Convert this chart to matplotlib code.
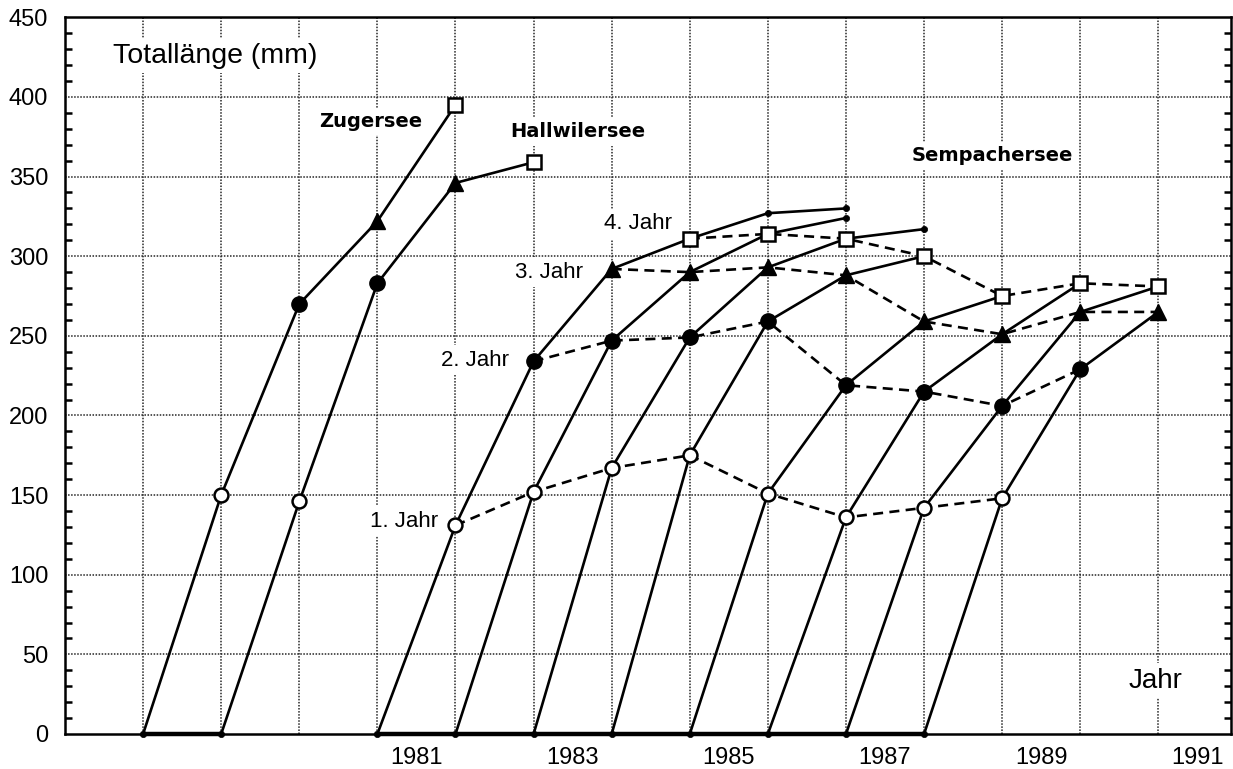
import numpy as np
import matplotlib
matplotlib.use("Agg")
import matplotlib.pyplot as plt
from matplotlib.ticker import MultipleLocator, FixedLocator

plt.rcParams["font.family"] = ["Liberation Sans", "DejaVu Sans"]


# -----------------------------
# Data (total length in mm, one list per year class)
# -----------------------------
zuger_years = [1978, 1979, 1980, 1981, 1982]
zuger_length = [0, 150, 270, 322, 395]

hallwil_years = [1979, 1980, 1981, 1982, 1983]
hallwil_length = [0, 146, 283, 346, 359]

# Sempachersee: year the cohort starts at 0 mm, then one value per year
sempach_start = [1981, 1982, 1983, 1984, 1985, 1986, 1987, 1988]
sempach_length = [
    [0, 131, 234, 292, 311, 327, 330],
    [0, 152, 247, 290, 314, 324],
    [0, 167, 249, 293, 311, 317],
    [0, 175, 259, 288, 300],
    [0, 151, 219, 259, 275],
    [0, 136, 215, 251, 283],
    [0, 142, 206, 265, 281],
    [0, 148, 229, 265],
]

year_ticks = [1981, 1983, 1985, 1987, 1989, 1991]
age_labels = ["1. Jahr", "2. Jahr", "3. Jahr", "4. Jahr"]


# -----------------------------
# Marker style per age (0 = hatching, 1..4 = Jahr)
# -----------------------------
def marker_for_age(age):
    if age == 1:
        return dict(marker="o", ms=10, mfc="white", mec="black", mew=1.8)
    if age == 2:
        return dict(marker="o", ms=11, mfc="black", mec="black", mew=1.0)
    if age == 3:
        return dict(marker="^", ms=11.5, mfc="black", mec="black", mew=1.0)
    if age == 4:
        return dict(marker="s", ms=10, mfc="white", mec="black", mew=1.8)
    return dict(marker="o", ms=4.5, mfc="black", mec="black", mew=0.5)


def plot_cohort(ax, years, values):
    ax.plot(years, values, color="black", lw=1.9, zorder=3, clip_on=False)
    for age, (x, y) in enumerate(zip(years, values)):
        ax.plot([x], [y], linestyle="none", zorder=5, clip_on=False,
                **marker_for_age(age))


# -----------------------------
# Figure
# -----------------------------
W, H = 1233, 769
fig = plt.figure(figsize=(W / 100, H / 100), dpi=100)
ax = fig.add_axes([65 / W, 1 - 734 / H, (1231 - 65) / W, (734 - 17.3) / H])

ax.set_xlim(1977, 1991.93)
ax.set_ylim(0, 450)

# grid: year boundaries and every 50 mm
grid_style = dict(color="0.15", lw=1.1, linestyle=(0, (1, 1)), zorder=1)
for gx in range(1978, 1992):
    ax.axvline(gx, **grid_style)
for gy in range(50, 450, 50):
    ax.axhline(gy, **grid_style)

# lake cohorts
plot_cohort(ax, zuger_years, zuger_length)
plot_cohort(ax, hallwil_years, hallwil_length)

sempach_years = []
for start, vals in zip(sempach_start, sempach_length):
    yrs = [start + i for i in range(len(vals))]
    sempach_years.append(yrs)
    plot_cohort(ax, yrs, vals)

# dashed lines joining the same age across Sempachersee cohorts
for age in range(1, 5):
    xs = [yrs[age] for yrs, vals in zip(sempach_years, sempach_length) if len(vals) > age]
    ys = [vals[age] for vals in sempach_length if len(vals) > age]
    ax.plot(xs, ys, color="black", lw=1.9, linestyle=(0, (3.8, 2.4)), zorder=2)

# thick baseline joining the hatching points
ax.plot([zuger_years[0], hallwil_years[0]], [0, 0], color="black", lw=3.2,
        zorder=4, clip_on=False)
ax.plot([sempach_start[0], sempach_start[-1]], [0, 0], color="black", lw=3.2,
        zorder=4, clip_on=False)

# -----------------------------
# Axes styling
# -----------------------------
for sp in ax.spines.values():
    sp.set_linewidth(1.8)

ax.yaxis.set_major_locator(MultipleLocator(50))
ax.yaxis.set_minor_locator(MultipleLocator(10))
ax.tick_params(axis="y", which="both", direction="in", left=True, right=True,
               labelsize=17, pad=12)
ax.tick_params(axis="y", which="major", length=0)
ax.tick_params(axis="y", which="minor", length=5, width=1.8)

ax.xaxis.set_major_locator(FixedLocator([y + 0.5 for y in year_ticks]))
ax.set_xticklabels([str(y) for y in year_ticks])
ax.tick_params(axis="x", which="both", length=0, labelsize=17, pad=9)

# -----------------------------
# Annotations
# -----------------------------
white = dict(facecolor="white", edgecolor="none", pad=3)
ax.text(1978.92, 426, "Totallänge (mm)", fontsize=20.5, ha="center",
        va="center", bbox=white, zorder=6)
ax.text(1990.96, 33.5, "Jahr", fontsize=20, ha="center", va="center",
        bbox=white, zorder=6)

lake_font = dict(family="DejaVu Sans", fontweight="bold", fontsize=14,
                 ha="center", va="center", bbox=white, zorder=6)
ax.text(1980.92, 384.7, "Zugersee", **lake_font)
ax.text(1983.56, 378, "Hallwilersee", **lake_font)
ax.text(1988.88, 363, "Sempachersee", **lake_font)

age_pos = [(1981.34, 133.6), (1982.25, 234.8), (1983.2, 290), (1984.34, 320.3)]
for (tx, ty), lab in zip(age_pos, age_labels):
    ax.text(tx, ty, lab, fontsize=16, ha="center", va="center",
            bbox=white, zorder=6)

fig.savefig("out.png", dpi=100)
